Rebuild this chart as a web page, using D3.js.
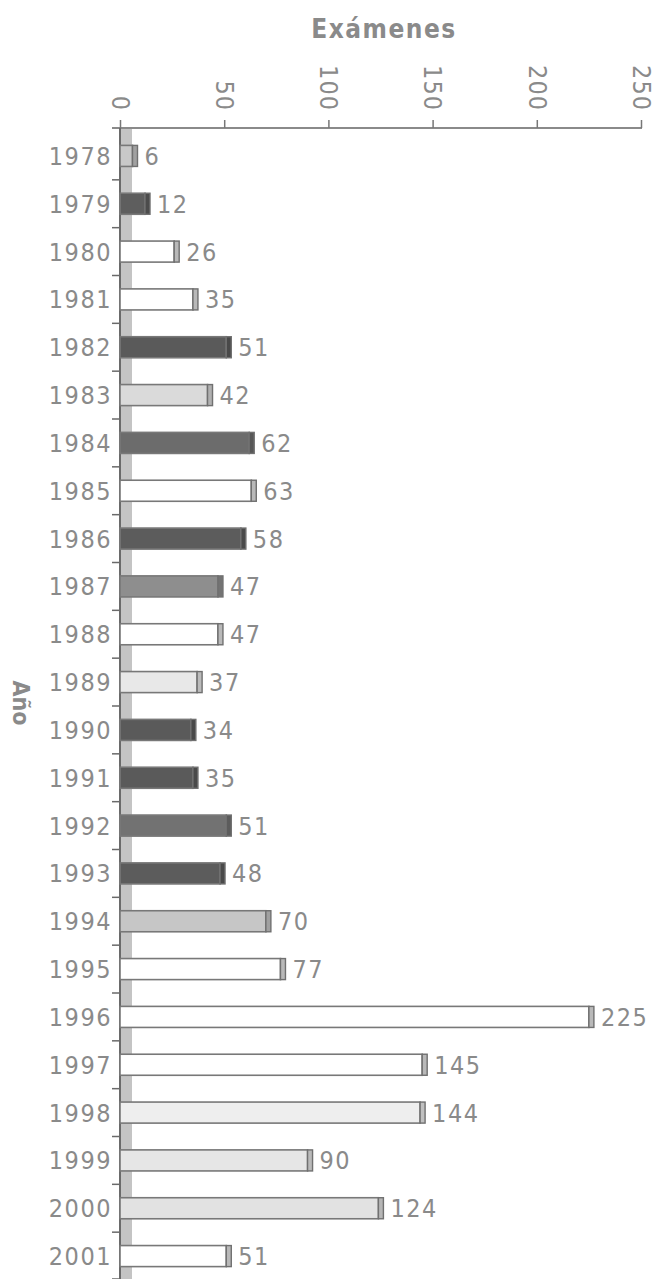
<!DOCTYPE html>
<html>
<head>
<meta charset="utf-8">
<script src="https://cdn.jsdelivr.net/npm/d3@7"></script>
<style>
  body { margin: 0; background: #fff; }
  svg { display: block; }
  text { font-family: "DejaVu Sans Condensed", "Liberation Sans Narrow", sans-serif; fill: #8a8a8a; }
</style>
</head>
<body>
<svg id="chart" width="663" height="1279"></svg>
<script>
const years = ['1978', '1979', '1980', '1981', '1982', '1983', '1984', '1985',
  '1986', '1987', '1988', '1989', '1990', '1991', '1992', '1993', '1994',
  '1995', '1996', '1997', '1998', '1999', '2000', '2001'];
const examenes = [6, 12, 26, 35, 51, 42, 62, 63, 58, 47, 47, 37, 34, 35, 51, 48,
  70, 77, 225, 145, 144, 90, 124, 51];
const xTicks = [0, 50, 100, 150, 200, 250];

// bar shading, one per year (style only)
const fills = ['#c8c8c8', '#5e5e5e', '#ffffff', '#ffffff', '#5a5a5a', '#dadada',
  '#6c6c6c', '#ffffff', '#5c5c5c', '#8e8e8e', '#ffffff', '#e8e8e8', '#5a5a5a',
  '#5a5a5a', '#727272', '#5c5c5c', '#c6c6c6', '#ffffff', '#ffffff', '#ffffff',
  '#eeeeee', '#e6e6e6', '#e2e2e2', '#ffffff'];

const rows = years.map((y, i) => ({ year: y, value: examenes[i], fill: fills[i] }));

const x = d3.scaleLinear().domain([0, 250]).range([120, 641]);
const y = d3.scaleBand().domain(years).range([132, 1280]).paddingInner(0.56).paddingOuter(0.28);
const band = d3.scaleBand().domain(years).range([132, 1280]);

const svg = d3.select('#chart');

// title
svg.append('text')
  .attr('x', 384).attr('y', 38)
  .attr('text-anchor', 'middle')
  .style('font-size', '26px').style('font-weight', 'bold')
  .style('letter-spacing', '1.5px')
  .text('Exámenes');

// y label
svg.append('text')
  .attr('transform', 'translate(13,703) rotate(90)')
  .attr('text-anchor', 'middle')
  .style('font-size', '23px').style('font-weight', 'bold')
  .text('Año');

// grey wall strip along the category axis
svg.append('rect')
  .attr('x', x(0) + 1).attr('y', 128)
  .attr('width', 11).attr('height', 1279 - 128)
  .attr('fill', '#c4c4c4');

// x axis on top
const xAxis = svg.append('g')
  .attr('transform', 'translate(0,128)')
  .call(d3.axisTop(x).tickValues(xTicks).tickSize(8).tickSizeOuter(0));
xAxis.select('.domain').attr('stroke', '#8a8a8a').attr('stroke-width', 2)
  .attr('d', `M112,0H${x(250) + 1}`);
xAxis.selectAll('.tick line').attr('stroke', '#777').attr('stroke-width', 1.5);
xAxis.selectAll('.tick text')
  .attr('transform', 'rotate(90)')
  .attr('x', -17).attr('y', 0).attr('dy', '0.35em')
  .attr('text-anchor', 'end')
  .style('font-size', '25px').style('letter-spacing', '1px')
  .attr('fill', '#8a8a8a');

// category axis with ticks between bands
const yAxis = svg.append('g').attr('transform', `translate(${x(0)},0)`);
yAxis.append('line')
  .attr('x1', 0).attr('x2', 0).attr('y1', 128).attr('y2', 1279)
  .attr('stroke', '#6a6a6a').attr('stroke-width', 2);
yAxis.selectAll('line.tk')
  .data(years.slice(1).concat(['end']))
  .join('line').attr('class', 'tk')
  .attr('x1', -8).attr('x2', 0)
  .attr('y1', d => d === 'end' ? band.range()[1] - 1 : band(d))
  .attr('y2', d => d === 'end' ? band.range()[1] - 1 : band(d))
  .attr('stroke', '#6a6a6a').attr('stroke-width', 1.5);
yAxis.selectAll('text')
  .data(years)
  .join('text')
  .attr('x', -8)
  .attr('y', d => band(d) + band.bandwidth() / 2)
  .attr('dy', '0.36em')
  .attr('text-anchor', 'end')
  .style('font-size', '25px').style('letter-spacing', '1.5px')
  .text(d => d);

// bars: front face plus a narrow darker end (3D side)
const bars = svg.append('g');
bars.selectAll('rect.face')
  .data(rows)
  .join('rect').attr('class', 'face')
  .attr('x', x(0))
  .attr('y', d => y(d.year))
  .attr('width', d => x(d.value) - x(0))
  .attr('height', y.bandwidth())
  .attr('fill', d => d.fill)
  .attr('stroke', '#787878').attr('stroke-width', 1.6);
bars.selectAll('rect.cap')
  .data(rows)
  .join('rect').attr('class', 'cap')
  .attr('x', d => x(d.value))
  .attr('y', d => y(d.year))
  .attr('width', 5)
  .attr('height', y.bandwidth())
  .attr('fill', d => d3.color(d.fill).darker(d.fill === '#ffffff' ? 0.9 : 0.6))
  .attr('stroke', '#707070').attr('stroke-width', 1.4);

// value labels
svg.append('g').selectAll('text')
  .data(rows)
  .join('text')
  .attr('x', d => x(d.value) + 12)
  .attr('y', d => y(d.year) + y.bandwidth() / 2)
  .attr('dy', '0.36em')
  .style('font-size', '25px').style('letter-spacing', '1.5px')
  .text(d => d.value);
</script>
</body>
</html>
